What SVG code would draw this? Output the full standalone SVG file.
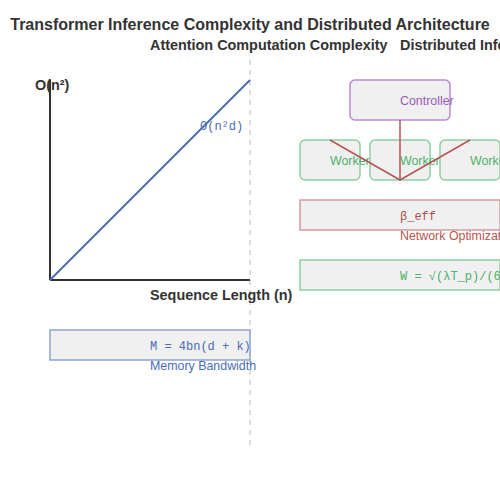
<svg xmlns="http://www.w3.org/2000/svg" width="500" height="500" viewBox="0 0 500 500">
<style>
.title{font-family:"Liberation Sans",Arial,sans-serif;font-size:16px;font-weight:bold;fill:#333}
.sub{font-family:"Liberation Sans",Arial,sans-serif;font-size:14.4px;font-weight:bold;fill:#333}
.lbl{font-family:"Liberation Sans",Arial,sans-serif;font-size:12.4px}
.mono{font-family:"Liberation Mono","DejaVu Sans Mono",monospace;font-size:12px}
.box{fill:#f0f0f0}
</style>
<rect width="500" height="500" fill="#fff"/>
<text class="title" x="250" y="30" text-anchor="middle">Transformer Inference Complexity and Distributed Architecture</text>
<text class="sub" x="150" y="50">Attention Computation Complexity</text>
<text class="sub" x="400" y="50">Distributed Inference</text>
<line x1="250" y1="60" x2="250" y2="445" stroke="#ddd" stroke-width="2" stroke-dasharray="5,5"/>
<g id="chart">
<line x1="50" y1="280" x2="50" y2="80" stroke="#333" stroke-width="2"/>
<line x1="50" y1="280" x2="250" y2="280" stroke="#333" stroke-width="2"/>
<text class="sub" x="35" y="90">O(n²)</text>
<text class="sub" x="150" y="300">Sequence Length (n)</text>
<line x1="50" y1="280" x2="250" y2="80" stroke="#4a6cb3" stroke-width="2"/>
<text class="mono" x="200" y="130" fill="#4a6cb3">O(n²d)</text>
</g>
<g id="memory">
<rect class="box" x="50" y="330" width="200" height="30" stroke="#8fa3d1" stroke-width="1.5"/>
<text class="mono" x="150" y="350" fill="#4a6cb3">M = 4bn(d + k)</text>
<text class="lbl" x="150" y="370" fill="#4a6cb3">Memory Bandwidth</text>
</g>
<g id="controller">
<rect class="box" x="350" y="80" width="100" height="40" rx="5" stroke="#b98bd0" stroke-width="1.5"/>
<text class="lbl" x="400" y="105" fill="#9b59b6">Controller</text>
</g>
<g id="worker1">
<rect class="box" x="300" y="140" width="60" height="40" rx="5" stroke="#8fd0a0" stroke-width="1.5"/>
<text class="lbl" x="330" y="165" fill="#4cb06a">Worker</text>
</g>
<g id="worker2">
<rect class="box" x="370" y="140" width="60" height="40" rx="5" stroke="#8fd0a0" stroke-width="1.5"/>
<text class="lbl" x="400" y="165" fill="#4cb06a">Worker</text>
</g>
<g id="worker3">
<rect class="box" x="440" y="140" width="60" height="40" rx="5" stroke="#8fd0a0" stroke-width="1.5"/>
<text class="lbl" x="470" y="165" fill="#4cb06a">Worker</text>
</g>
<g id="connectors" stroke="#b85450" stroke-width="1.5">
<line x1="400" y1="120" x2="400" y2="180"/>
<line x1="330" y1="140" x2="400" y2="180"/>
<line x1="470" y1="140" x2="400" y2="180"/>
</g>
<g id="network">
<rect class="box" x="300" y="200" width="200" height="30" stroke="#d49a9a" stroke-width="1.5"/>
<text class="mono" x="400" y="220" fill="#a85050">β_eff</text>
<text class="lbl" x="400" y="240" fill="#b85450">Network Optimization</text>
</g>
<g id="workload">
<rect class="box" x="300" y="260" width="200" height="30" stroke="#8fd0a0" stroke-width="1.5"/>
<text class="mono" x="400" y="280" fill="#4cb06a">W = √(λT_p)/(60)</text>
</g>
</svg>
